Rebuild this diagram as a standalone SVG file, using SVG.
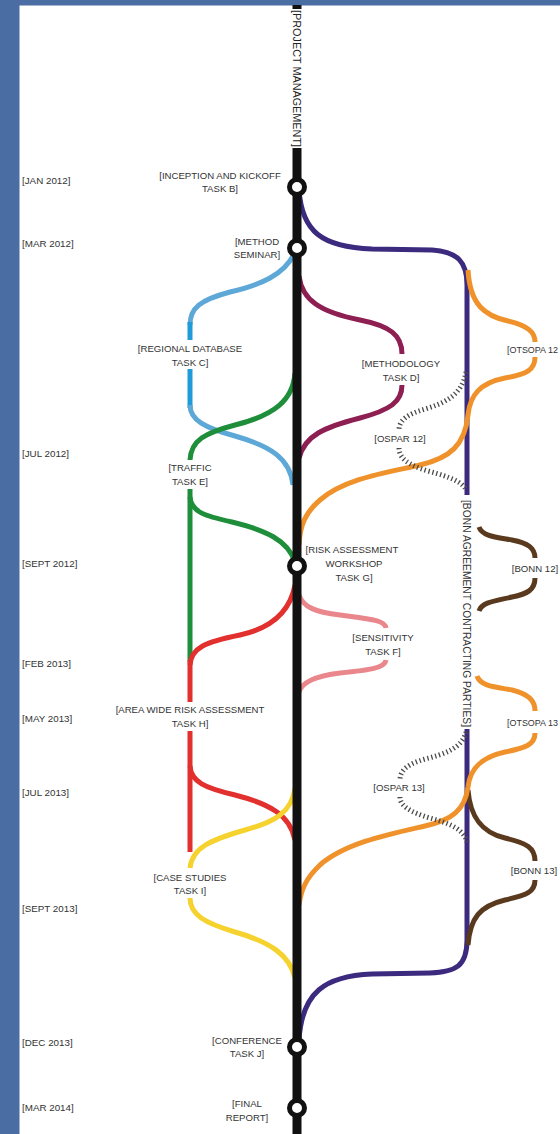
<svg xmlns="http://www.w3.org/2000/svg" width="560" height="1134" viewBox="0 0 560 1134">
<style>
.lbl{font-family:"Liberation Sans",Arial,sans-serif;font-size:9.6px;fill:#333;text-anchor:middle}
.lbs{font-family:"Liberation Sans",Arial,sans-serif;font-size:9.6px;fill:#333}
.date{font-family:"Liberation Sans",Arial,sans-serif;font-size:9.8px;fill:#333}
.ln{fill:none;stroke-width:5}
.pu{stroke:#3b2a7e}.or{stroke:#f0922b}.br{stroke:#5a3a1e}
.bl{stroke:#5ea8d8}.blv{stroke:#1e9bd8}.gr{stroke:#1f8e3b}.rd{stroke:#e2302e}
.ye{stroke:#f6d22e}.ma{stroke:#8e1f52}.pk{stroke:#ea878c}
.dt{fill:none;stroke:#4a4a4a;stroke-width:5;stroke-dasharray:1.3 2.7}
.st{fill:#fff;stroke:#111;stroke-width:5}
</style>
<rect width="560" height="1134" fill="#fff"/>
<rect x="0" y="0" width="560" height="5.5" fill="#4a6da3"/>
<rect x="0" y="0" width="19.5" height="1134" fill="#4a6da3"/>

<g id="dates">
<text class="date" x="22" y="183.5">[JAN 2012]</text>
<text class="date" x="22" y="246.5">[MAR 2012]</text>
<text class="date" x="22" y="456.5">[JUL 2012]</text>
<text class="date" x="22" y="566.5">[SEPT 2012]</text>
<text class="date" x="22" y="666.5">[FEB 2013]</text>
<text class="date" x="22" y="721.5">[MAY 2013]</text>
<text class="date" x="22" y="795.5">[JUL 2013]</text>
<text class="date" x="22" y="911.5">[SEPT 2013]</text>
<text class="date" x="22" y="1045.5">[DEC 2013]</text>
<text class="date" x="22" y="1110.5">[MAR 2014]</text>
</g>

<g id="connectors">
<path class="ln pu" d="M299 190 C302 232 322 247 372 249 L432 250 C458 252 467 262 467 285 L467 495"/>
<path class="ln pu" d="M467 729 L467 940 C467 966 456 972 430 973 L372 974 C325 976 302 992 299 1040"/>
<path class="ln br" d="M479 527 C482 536 495 537 512 540 C528 543 535 548 535 558"/>
<path class="ln br" d="M535 578 C535 590 527 594 512 597 C495 601 482 602 479 611"/>
<path class="ln br" d="M468 790 C470 815 480 832 505 838 C527 843 535 848 535 861"/>
<path class="ln br" d="M535 880 C535 892 527 895 505 900 C480 906 470 918 468 945"/>
<path class="ln or" d="M468 270 C470 305 485 316 508 321 C528 326 535 332 535 342"/>
<path class="ln or" d="M535 357 C535 370 527 374 505 378 C480 383 470 395 468 415 C465 445 450 458 420 465 C390 472 345 478 320 500 C305 513 300 525 299 545"/>
<path class="ln or" d="M477 676 C480 686 495 687 512 690 C528 694 535 700 535 711"/>
<path class="ln or" d="M535 733 C535 745 525 748 505 752 C482 757 470 768 468 787 C465 810 452 820 425 826 C390 834 345 843 320 865 C306 878 301 890 299 905"/>
<path class="dt" d="M466 372 C462 395 445 403 425 409 C408 414 399 420 399 430"/>
<path class="dt" d="M399 448 C399 458 408 465 428 471 C450 477 463 482 466 490"/>
<path class="dt" d="M466 732 C462 748 445 754 425 759 C408 764 400 770 400 780"/>
<path class="dt" d="M400 797 C400 806 410 812 430 818 C452 824 464 830 467 842"/>
<path class="ln ma" d="M299 276 C302 300 320 312 360 320 C390 326 402 335 402 354"/>
<path class="ln ma" d="M402 385 C402 402 390 410 360 418 C325 427 305 435 299 458"/>
<path class="ln pk" d="M299 595 C303 607 315 612 340 615 C370 619 385 620 386 628"/>
<path class="ln pk" d="M386 660 C385 668 370 670 340 673 C315 676 302 682 299 692"/>
<path class="ln bl" d="M295 252 C285 275 260 285 230 292 C200 300 190 308 190 325"/>
<path class="ln blv" d="M190 322 L190 340"/>
<path class="ln blv" d="M190 369 L190 408"/>
<path class="ln bl" d="M190 405 C190 420 205 428 235 436 C270 446 290 458 293 485"/>
<path class="ln gr" d="M295 373 C293 400 275 415 235 425 C205 433 191 440 190 460"/>
<path class="ln gr" d="M190 489 L190 662"/>
<path class="ln gr" d="M190 497 C191 512 205 516 232 522 C265 530 288 540 295 562"/>
<path class="ln rd" d="M295 585 C290 612 272 628 240 635 C205 642 191 648 190 665"/>
<path class="ln rd" d="M190 660 L190 702"/>
<path class="ln rd" d="M190 731 L190 852"/>
<path class="ln rd" d="M190 766 C191 782 205 788 235 795 C270 804 290 815 295 840"/>
<path class="ln ye" d="M295 788 C292 812 275 822 245 830 C210 840 192 848 190 868"/>
<path class="ln ye" d="M190 898 C190 915 205 923 235 932 C270 942 290 955 295 978"/>
</g>

<g id="project-management">
<rect x="292.5" y="5" width="9" height="4" fill="#111"/>
<rect x="292.5" y="148" width="9" height="986" fill="#111"/>
<text transform="translate(297 78.5) rotate(90)" y="3.8" textLength="137" lengthAdjust="spacingAndGlyphs" style="font-family:'Liberation Sans',Arial,sans-serif;font-size:10.8px;fill:#222;text-anchor:middle">[PROJECT MANAGEMENT]</text>
</g>

<g id="bonn-parties">
<text transform="translate(467 613.5) rotate(90)" y="3.6" textLength="227" lengthAdjust="spacingAndGlyphs" style="font-family:'Liberation Sans',Arial,sans-serif;font-size:10.2px;fill:#333;text-anchor:middle">[BONN AGREEMENT CONTRACTING PARTIES]</text>
</g>

<g id="inception"><circle class="st" cx="297" cy="187" r="7.5"/>
<text class="lbl" x="220" y="178.5">[INCEPTION AND KICKOFF</text><text class="lbl" x="220" y="191.5">TASK B]</text></g>
<g id="method-seminar"><circle class="st" cx="297" cy="248" r="7.5"/>
<text class="lbl" x="257" y="244.5">[METHOD</text><text class="lbl" x="257" y="257.5">SEMINAR]</text></g>
<g id="regional-database"><text class="lbl" x="190" y="352">[REGIONAL DATABASE</text><text class="lbl" x="190" y="365.5">TASK C]</text></g>
<g id="methodology"><text class="lbl" x="401" y="366.5">[METHODOLOGY</text><text class="lbl" x="401" y="380.5">TASK D]</text></g>
<g id="ospar12"><text class="lbl" x="400" y="441.5">[OSPAR 12]</text></g>
<g id="otsopa12"><text class="lbs" x="507" y="352.5" textLength="51" lengthAdjust="spacingAndGlyphs">[OTSOPA 12</text></g>
<g id="traffic"><text class="lbl" x="190" y="470.5">[TRAFFIC</text><text class="lbl" x="190" y="484.5">TASK E]</text></g>
<g id="risk-workshop"><circle class="st" cx="297" cy="566" r="7.5"/>
<text class="lbl" x="352" y="552.5">[RISK ASSESSMENT</text><text class="lbl" x="354" y="566.5">WORKSHOP</text><text class="lbl" x="354" y="580.5">TASK G]</text></g>
<g id="bonn12"><text class="lbl" x="535" y="571.5">[BONN 12]</text></g>
<g id="sensitivity"><text class="lbl" x="383" y="640.5">[SENSITIVITY</text><text class="lbl" x="383" y="654.5">TASK F]</text></g>
<g id="area-wide"><text class="lbl" x="190" y="712.5">[AREA WIDE RISK ASSESSMENT</text><text class="lbl" x="190" y="726.5">TASK H]</text></g>
<g id="otsopa13"><text class="lbs" x="507" y="725.5" textLength="51" lengthAdjust="spacingAndGlyphs">[OTSOPA 13</text></g>
<g id="ospar13"><text class="lbl" x="399" y="790.5">[OSPAR 13]</text></g>
<g id="bonn13"><text class="lbl" x="534" y="873.5">[BONN 13]</text></g>
<g id="case-studies"><text class="lbl" x="190" y="880.5">[CASE STUDIES</text><text class="lbl" x="190" y="893.5">TASK I]</text></g>
<g id="conference"><circle class="st" cx="297" cy="1047" r="7.5"/>
<text class="lbl" x="247" y="1043.5">[CONFERENCE</text><text class="lbl" x="247" y="1056.5">TASK J]</text></g>
<g id="final-report"><circle class="st" cx="297" cy="1108" r="7.5"/>
<text class="lbl" x="247" y="1106.5">[FINAL</text><text class="lbl" x="247" y="1120.5">REPORT]</text></g>
</svg>
